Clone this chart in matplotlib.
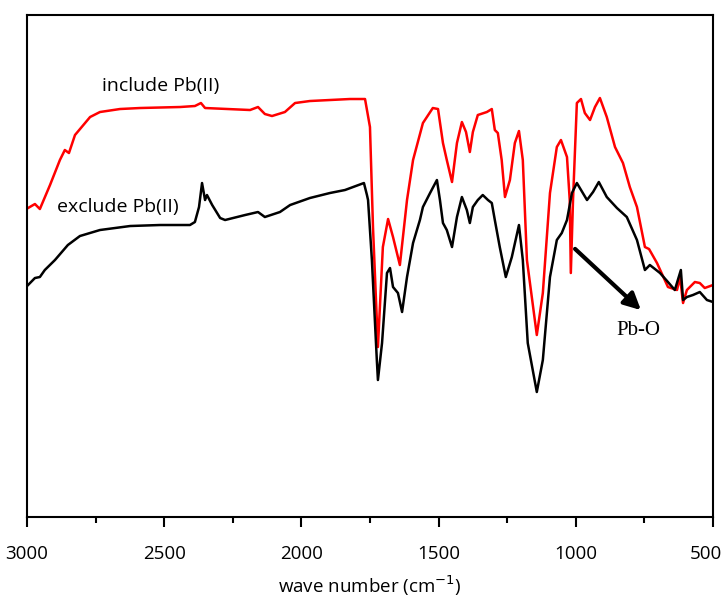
import numpy as np
import matplotlib
matplotlib.use("Agg")
import matplotlib.pyplot as plt
import matplotlib.transforms as mtransforms
from matplotlib.ticker import MultipleLocator

# FTIR spectra (wave number in cm^-1, transmittance in a.u.)
wn_incl = [2996, 2971, 2953, 2916, 2880, 2862, 2847, 2825, 2770, 2734, 2661, 2588,
           2442, 2388, 2366, 2351, 2187, 2158, 2133, 2107, 2060, 2023, 1969, 1896,
           1823, 1779, 1768, 1750, 1739, 1721, 1703, 1684, 1666, 1641, 1615, 1593,
           1557, 1521, 1502, 1484, 1470, 1451, 1433, 1415, 1400, 1386, 1375, 1357,
           1324, 1306, 1295, 1284, 1270, 1258, 1240, 1222, 1207, 1193, 1178, 1142,
           1120, 1094, 1069, 1054, 1032, 1022, 1018, 1010, 996, 981, 967, 948, 930,
           912, 887, 857, 828, 803, 777, 748, 733, 704, 664, 631, 620, 609, 595, 566,
           548, 530, 500]
t_incl = [309, 313, 308, 332, 357, 367, 364, 382, 400, 405, 408, 409,
          410, 411, 414, 409, 407, 410, 403, 401, 405, 414, 416, 417,
          418, 418, 418, 390, 290, 170, 270, 298, 280, 252, 317, 357,
          394, 409, 408, 374, 357, 335, 374, 395, 385, 365, 385, 402,
          405, 408, 387, 384, 357, 320, 337, 374, 386, 357, 257, 182,
          224, 324, 370, 377, 360, 317, 244, 317, 414, 418, 404, 397, 410,
          419, 400, 370, 354, 330, 310, 270, 268, 254, 230, 227, 240, 214, 227, 235,
          234, 229, 232]

wn_excl = [2996, 2971, 2953, 2935, 2898, 2851, 2807, 2734, 2624, 2515, 2406, 2388,
           2373, 2362, 2351, 2344, 2325, 2296, 2278, 2205, 2158, 2133, 2078, 2041,
           1969, 1896, 1841, 1772, 1761, 1757, 1743, 1725, 1721, 1706, 1688, 1677,
           1666, 1648, 1633, 1615, 1593, 1568, 1557, 1531, 1506, 1495, 1484, 1470,
           1451, 1433, 1415, 1397, 1386, 1375, 1357, 1339, 1320, 1306, 1295, 1277,
           1255, 1233, 1207, 1193, 1175, 1142, 1120, 1094, 1069, 1051, 1032, 1014,
           996, 959, 937, 916, 887, 850, 814, 777, 748, 730, 693, 664, 639, 617, 609,
           595, 573, 548, 522, 500]
t_excl = [232, 239, 240, 247, 257, 272, 281, 287, 291, 292, 292, 295,
          310, 334, 317, 322, 312, 299, 297, 302, 305, 300, 305, 312,
          319, 324, 327, 334, 322, 317, 257, 157, 137, 174, 244, 249,
          230, 224, 205, 240, 274, 297, 310, 324, 337, 317, 294, 287,
          270, 300, 320, 307, 294, 310, 317, 322, 317, 314, 297, 270,
          240, 260, 292, 257, 174, 125, 157, 240, 277, 284, 297, 324,
          334, 317, 325, 335, 320, 309, 300, 277, 247, 252, 244, 235, 227, 247, 217,
          220, 222, 225, 217, 215]

xticks = [3000, 2500, 2000, 1500, 1000, 500]

plt.rcParams['font.family'] = ['Open Sans', 'DejaVu Sans']

fig = plt.figure(figsize=(7.25, 6.03), dpi=100)
ax = fig.add_axes([0.0372, 0.1426, 0.9462, 0.8325])

ax.plot(wn_incl, t_incl, color='red', lw=1.8)
ax.plot(wn_excl, t_excl, color='black', lw=1.8)

ax.set_xlim(3000, 500)
ax.set_ylim(0, 502)
ax.set_yticks([])
ax.set_xticks(xticks)
ax.xaxis.set_minor_locator(MultipleLocator(250))
ax.tick_params(axis='x', which='major', direction='out', length=7, width=1.5,
               labelsize=13.5, pad=13)
ax.tick_params(axis='x', which='minor', direction='out', length=4, width=1.5)
for s in ax.spines.values():
    s.set_linewidth(1.5)

# nudge the edge label "500" so it stays inside the figure
for lab in ax.get_xticklabels():
    if lab.get_text() == '500':
        lab.set_transform(lab.get_transform() +
                          mtransforms.ScaledTranslation(-5 / 72, 0, fig.dpi_scale_trans))

ax.set_xlabel('wave number (cm$^{-1}$)', fontsize=13.5, labelpad=8)

ax.text(2512, 431, 'include Pb(II)', fontsize=14, ha='center', va='center')
ax.text(2668, 310, 'exclude Pb(II)', fontsize=14, ha='center', va='center')

ax.annotate('', xy=(755, 205), xytext=(1010, 270),
            arrowprops=dict(arrowstyle='-|>', lw=3, mutation_scale=25, color='black'))
ax.text(773, 187, 'Pb-O', fontsize=15, ha='center', va='center',
        family='Liberation Serif')

fig.savefig('out.png', dpi=100)
